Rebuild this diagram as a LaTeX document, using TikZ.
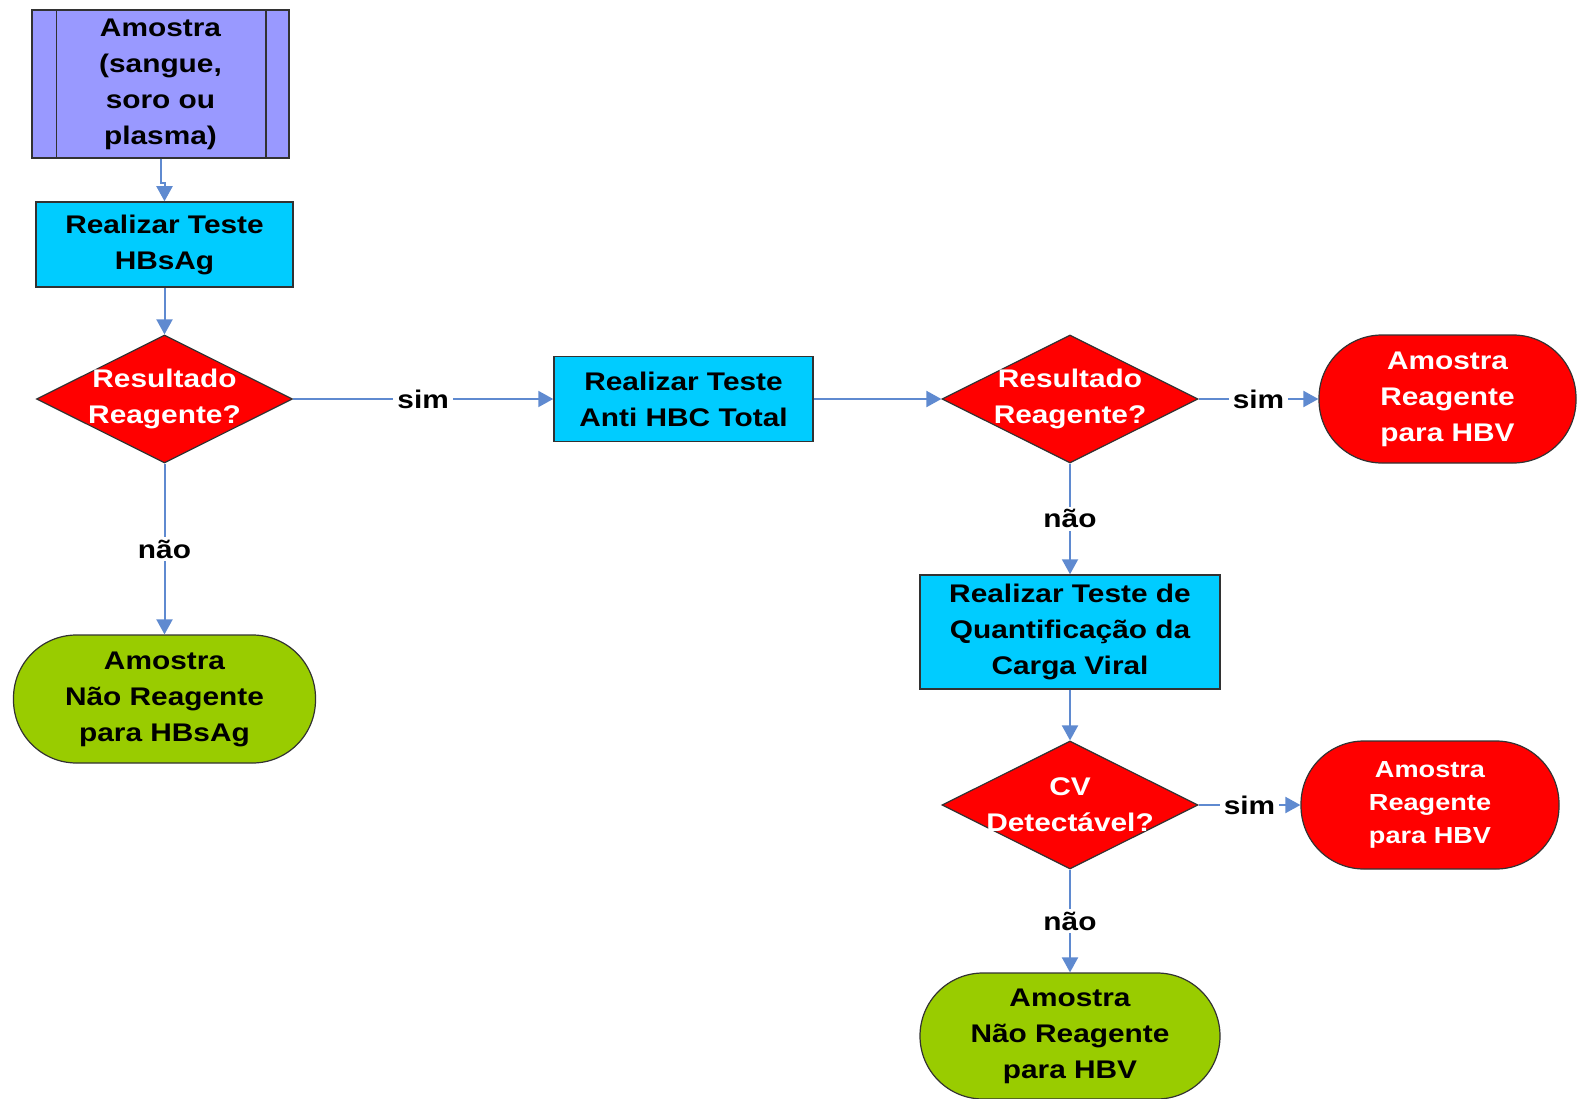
\documentclass[tikz,border=0pt]{standalone}
\usepackage{fontspec}
\setmainfont[FakeStretch=1.17]{Liberation Sans}
\usetikzlibrary{arrows.meta,shapes.geometric}
\definecolor{purp}{RGB}{153,153,255}
\definecolor{cyanb}{RGB}{0,204,255}
\definecolor{redf}{RGB}{255,0,0}
\definecolor{greenf}{RGB}{153,204,0}
\definecolor{arrc}{RGB}{95,138,208}
\definecolor{bord}{RGB}{50,50,50}
\begin{document}
\begin{tikzpicture}[x=1pt,y=-1pt,
  txt/.style={font=\fontsize{25.5}{36}\selectfont\bfseries, align=center},
  smalltxt/.style={font=\fontsize{23.2}{33}\selectfont\bfseries, align=center},
  procbox/.style={txt, draw=bord, line width=1.5pt, inner sep=0pt},
  dia/.style={txt, text=white, diamond, draw=bord, fill=redf, line width=1.2pt,
    inner xsep=-55pt, inner ysep=-26pt, minimum width=256pt, minimum height=128pt},
  term/.style={txt, draw=bord, line width=1.2pt, rounded corners=63pt,
    minimum height=128pt, inner sep=0pt},
  arr/.style={draw=arrc, line width=2pt, -{Triangle[length=15pt,width=16pt]}},
  lbl/.style={txt, fill=white, inner xsep=4pt, inner ysep=3pt}
]
\useasboundingbox (0,0) rectangle (1581,1099);

% nodes
\node[procbox, fill=purp, minimum width=257pt, minimum height=148pt] (amo) at (160.5,84)
  {Amostra\\(sangue,\\soro ou\\plasma)};
\draw[bord, line width=1.5pt] ([xshift=25pt]amo.north west) -- ([xshift=25pt]amo.south west);
\draw[bord, line width=1.5pt] ([xshift=-24pt]amo.north east) -- ([xshift=-24pt]amo.south east);

\node[procbox, fill=cyanb, minimum width=257pt, minimum height=85pt] (hbs) at (164.5,244.5)
  {Realizar Teste\\HBsAg};
\node[dia] (d1) at (164.5,399) {Resultado\\Reagente?};
\node[term, fill=greenf, minimum width=302pt] (g1) at (164.5,699)
  {Amostra\\Não Reagente\\para HBsAg};

\node[procbox, fill=cyanb, minimum width=259pt, minimum height=85pt] (hbc) at (683.5,399)
  {Realizar Teste\\Anti HBC Total};
\node[dia] (d2) at (1070,399) {Resultado\\Reagente?};
\node[term, fill=redf, text=white, minimum width=257pt] (r1) at (1447.5,399)
  {Amostra\\Reagente\\para HBV};

\node[procbox, fill=cyanb, minimum width=300pt, minimum height=114pt] (cv) at (1070,632)
  {Realizar Teste de\\Quantificação da\\Carga Viral};
\node[dia] (d3) at (1070,805) {CV\\Detectável?};
\node[term, smalltxt, fill=redf, text=white, minimum width=258pt] (r2) at (1430,805)
  {Amostra\\Reagente\\para HBV};
\node[term, fill=greenf, minimum width=300pt, minimum height=126pt] (g2) at (1070,1036)
  {Amostra\\Não Reagente\\para HBV};

% connectors
\draw[arr] (amo.south) -- ++(0,24) -| (hbs.north);
\draw[arr] (hbs.south) -- (d1.north);
\draw[arr] (d1.east) -- node[lbl] (s1) {sim} (hbc.west);
\draw[arr] (d1.south) -- node[lbl] (n1) {não} (g1.north);
\draw[arr] (hbc.east) -- (d2.west);
\draw[arr] (d2.east) -- node[lbl] (s2) {sim} (r1.west);
\draw[arr] (d2.south) -- node[lbl] (n2) {não} (cv.north);
\draw[arr] (cv.south) -- (d3.north);
\draw[arr] (d3.east) -- node[lbl] (s3) {sim} (r2.west);
\draw[arr] (d3.south) -- node[lbl] (n3) {não} (g2.north);
\end{tikzpicture}
\end{document}
